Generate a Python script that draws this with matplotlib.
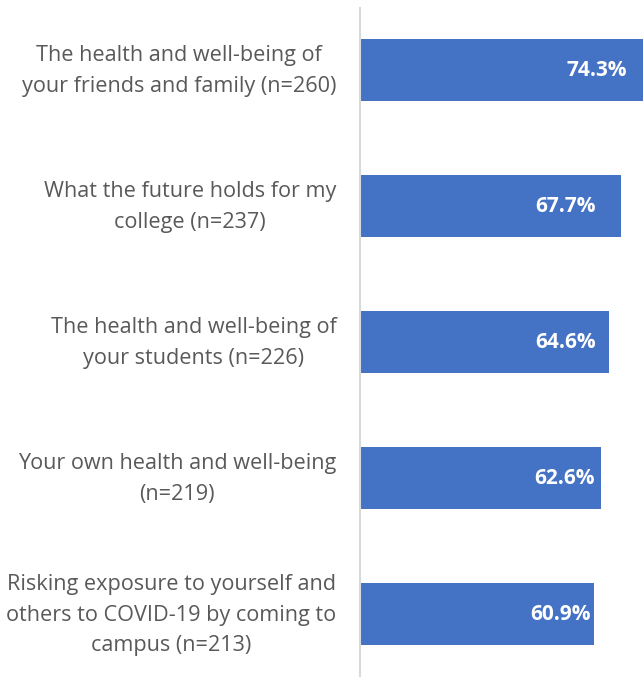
import matplotlib.pyplot as plt
import matplotlib.transforms as mtransforms

# Survey categories and share of respondents
labels = [
    "The health and well-being of\nyour friends and family (n=260)",
    "What the future holds for my\ncollege (n=237)",
    "The health and well-being of\nyour students (n=226)",
    "Your own health and well-being\n(n=219)",
    "Risking exposure to yourself and\nothers to COVID-19 by coming to\ncampus (n=213)",
]
values = [74.3, 67.7, 64.6, 62.6, 60.9]

# gap between bar end and value label, in points (as placed in the original)
label_pad = [14, 18, 9, 4.5, 3]

plt.rcParams['font.family'] = ['Open Sans', 'DejaVu Sans']

fig = plt.figure(figsize=(6.43, 6.77), dpi=100)
ax = fig.add_axes([360 / 643, 0, 1 - 360 / 643, 669 / 677])

pos = list(range(len(values)))
bars = ax.barh(pos, values, height=0.456, color='#4472C4')

# value labels inside the bar ends
for b, v, p in zip(bars, values, label_pad):
    ax.annotate(f"{v:.1f}%", xy=(v, b.get_y() + b.get_height() / 2),
                xytext=(-p, 0), textcoords='offset points',
                ha='right', va='center', color='white',
                fontsize=15, fontweight='bold', annotation_clip=False)

ax.set_xlim(0, 73.5)
ax.set_ylim(4.463, -0.456)
ax.set_yticks(pos)
ax.set_yticklabels(labels, fontsize=15.6, color='#595959',
                   multialignment='center', linespacing=1.6)
ax.tick_params(axis='y', length=0, pad=17)
ax.set_xticks([])

# nudge category labels up a little
shift = mtransforms.ScaledTranslation(0, 4.5 / 72, fig.dpi_scale_trans)
for t in ax.get_yticklabels():
    t.set_transform(t.get_transform() + shift)

for s in ['top', 'right', 'bottom']:
    ax.spines[s].set_visible(False)
ax.spines['left'].set_color('#D9D9D9')
ax.spines['left'].set_linewidth(1.5)

fig.savefig('out.png', dpi=100)
